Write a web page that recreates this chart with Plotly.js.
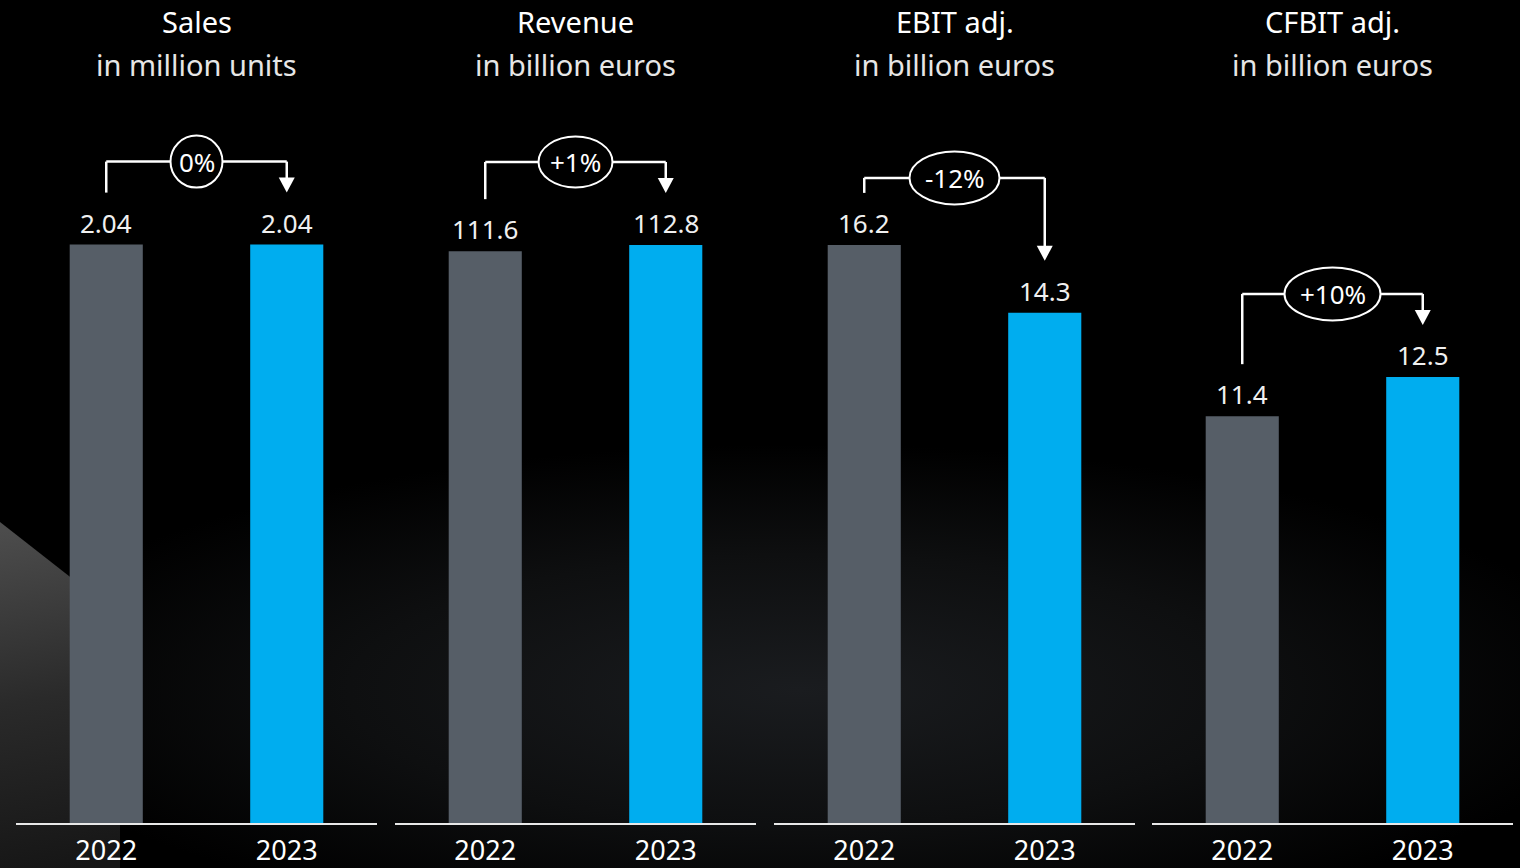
<!DOCTYPE html>
<html>
<head>
<meta charset="utf-8">
<script src="https://cdn.plot.ly/plotly-3.0.1.min.js"></script>
<style>html,body{margin:0;padding:0;background:#000;}#chart{width:1520px;height:868px;}</style>
</head>
<body>
<div id="chart"></div>
<script>
// ---- data ----
const panelTitles = ['Sales', 'Revenue', 'EBIT adj.', 'CFBIT adj.'];
const panelUnits = ['in million units', 'in billion euros', 'in billion euros', 'in billion euros'];
const years = ['2022', '2023'];
const values2022 = [2.04, 111.6, 16.2, 11.4];
const values2023 = [2.04, 112.8, 14.3, 12.5];
const labels2022 = ['2.04', '111.6', '16.2', '11.4'];
const labels2023 = ['2.04', '112.8', '14.3', '12.5'];
const changes = ['0%', '+1%', '-12%', '+10%'];

// ---- style / layout ----
const W = 1520, H = 868;
const FONT = 'Noto Sans, Lato, sans-serif';
const colGray = '#565E67', colBlue = '#00ADEF';
const yMax = [2.55, 141.1, 20.26, 20.26];          // axis ranges per panel
const xDomains = [[16/W, 377/W], [395/W, 756/W], [774/W, 1135/W], [1152/W, 1513/W]];
const yDomain = [45/H, 768/H];
const plotH = (yDomain[1] - yDomain[0]) * H;
const bracketOffset = [83, 83, 67, 83];            // px above taller bar
const ovalW = [52, 74, 90, 96], ovalH = [52, 51, 53, 53];
const lineGap = 52, headLen = 15, headHalf = 8;

const bgSvg = `<svg xmlns='http://www.w3.org/2000/svg' width='1520' height='868' viewBox='0 0 1520 868' preserveAspectRatio='none'>
<defs>
<radialGradient id='g' cx='800' cy='690' r='820' gradientUnits='userSpaceOnUse' gradientTransform='translate(0,690) scale(1,0.3) translate(0,-690)'>
<stop offset='0' stop-color='#1a1c1f'/><stop offset='0.55' stop-color='#0e0f10'/><stop offset='1' stop-color='#000'/></radialGradient>
<linearGradient id='t' x1='10' y1='530' x2='70' y2='868' gradientUnits='userSpaceOnUse'>
<stop offset='0' stop-color='#4c4c4c'/><stop offset='0.5' stop-color='#2a2a2a'/><stop offset='1' stop-color='#161616'/></linearGradient>
</defs>
<rect width='1520' height='868' fill='#000'/>
<rect width='1520' height='868' fill='url(#g)'/>
<polygon points='0,522 120,616 120,868 0,868' fill='url(#t)'/>
</svg>`;

const traces = [];
const shapes = [];
const annotations = [];
const layout = {
  width: W, height: H,
  margin: {l: 0, r: 0, t: 0, b: 0},
  paper_bgcolor: '#000', plot_bgcolor: 'rgba(0,0,0,0)',
  showlegend: false,
  font: {family: FONT, color: '#fff'},
  images: [{
    source: 'data:image/svg+xml;charset=utf-8,' + encodeURIComponent(bgSvg),
    xref: 'paper', yref: 'paper', x: 0, y: 1, sizex: 1, sizey: 1,
    xanchor: 'left', yanchor: 'top', sizing: 'stretch', layer: 'below'
  }],
  shapes: shapes, annotations: annotations
};

for (let i = 0; i < 4; i++) {
  const n = i === 0 ? '' : String(i + 1);
  const xa = 'x' + n, ya = 'y' + n;
  traces.push({
    type: 'bar', x: years, y: [values2022[i], values2023[i]],
    xaxis: xa, yaxis: ya, width: 0.405,
    marker: {color: [colGray, colBlue], line: {width: 0}},
    hoverinfo: 'skip'
  });
  layout['xaxis' + n] = {
    domain: xDomains[i], anchor: ya, type: 'category', range: [-0.5, 1.5],
    showline: true, linecolor: '#e8e8e8', linewidth: 2,
    showgrid: false, zeroline: false, ticks: '', ticklabelstandoff: 3,
    tickfont: {family: FONT, size: 27, color: '#fff'}, fixedrange: true, automargin: false
  };
  layout['yaxis' + n] = {
    domain: yDomain, anchor: xa, range: [0, yMax[i]], visible: false, fixedrange: true
  };

  const pxToData = px => px * yMax[i] / plotH;
  const vmax = Math.max(values2022[i], values2023[i]);
  const level = vmax + pxToData(bracketOffset[i]);
  const lineStyle = {color: '#fff', width: 2.5};

  // titles
  annotations.push({
    xref: xa, yref: 'paper', x: 0.5, y: 1 - 22/H, yanchor: 'middle', showarrow: false,
    text: panelTitles[i], font: {family: FONT, size: 29, color: '#fff'}
  });
  annotations.push({
    xref: xa, yref: 'paper', x: 0.5, y: 1 - 64/H, yanchor: 'middle', showarrow: false,
    text: panelUnits[i], font: {family: FONT, size: 29, color: '#e6e6e6'}
  });
  // value labels
  [[0, values2022[i], labels2022[i]], [1, values2023[i], labels2023[i]]].forEach(([xi, v, t]) => {
    annotations.push({
      xref: xa, yref: ya, x: xi, y: v, yanchor: 'middle', yshift: 22, showarrow: false,
      text: t, font: {family: FONT, size: 26, color: '#f0f0f0'}
    });
  });

  // bracket
  shapes.push({type: 'line', xref: xa, yref: ya, x0: 0, x1: 0,
    y0: values2022[i] + pxToData(lineGap), y1: level, line: lineStyle});
  shapes.push({type: 'line', xref: xa, yref: ya, x0: 0, x1: 1, y0: level, y1: level, line: lineStyle});
  shapes.push({type: 'line', xref: xa, yref: ya, x0: 1, x1: 1,
    y0: level, y1: values2023[i] + pxToData(lineGap + headLen - 1), line: lineStyle});
  shapes.push({type: 'path', xref: xa, yref: ya, xsizemode: 'pixel', ysizemode: 'pixel',
    xanchor: 1, yanchor: values2023[i],
    path: `M${-headHalf},${lineGap + headLen} L${headHalf},${lineGap + headLen} L0,${lineGap} Z`,
    fillcolor: '#fff', line: {width: 0}});
  shapes.push({type: 'circle', xref: xa, yref: ya, xsizemode: 'pixel', ysizemode: 'pixel',
    xanchor: 0.5, yanchor: level,
    x0: -ovalW[i]/2, x1: ovalW[i]/2, y0: -ovalH[i]/2, y1: ovalH[i]/2,
    fillcolor: '#000', line: {color: '#fff', width: 2}});
  annotations.push({
    xref: xa, yref: ya, x: 0.5, y: level, yanchor: 'middle', showarrow: false,
    text: changes[i], font: {family: FONT, size: 26, color: '#fff'}
  });
}

Plotly.newPlot('chart', traces, layout, {displayModeBar: false, staticPlot: true});
</script>
</body>
</html>
